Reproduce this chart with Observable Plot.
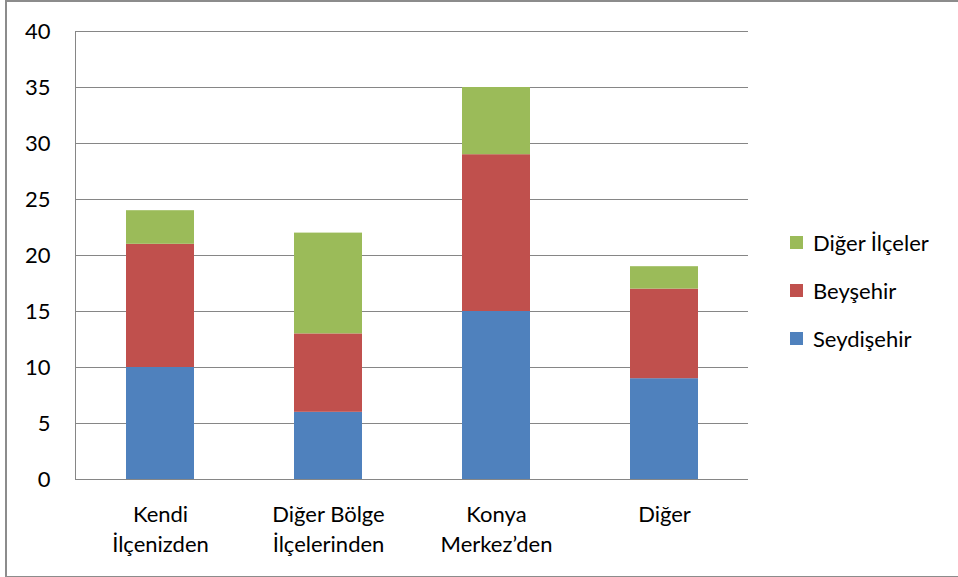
<!DOCTYPE html>
<html><head><meta charset="utf-8">
<script src="https://cdn.jsdelivr.net/npm/d3@7"></script>
<script src="https://cdn.jsdelivr.net/npm/@observablehq/plot@0.6"></script>
<style>
body{margin:0;background:#fff;}
#wrap{position:relative;width:958px;height:577px;overflow:hidden;font-family:Lato,sans-serif;}
#border{position:absolute;left:5px;top:0px;width:960px;height:574px;border:2px solid #8c8c8c;border-right:none;box-sizing:content-box;}
#legend{position:absolute;left:790px;top:218px;font-size:22px;color:#000;}
.li{display:flex;align-items:center;height:48px;margin:0;}
.sw{width:13px;height:13px;margin-right:10px;}
</style></head>
<body><div id="wrap"><div id="border"></div><div id="chart"></div><div id="legend"></div></div>
<script>
const categories = ["Kendi\nİlçenizden", "Diğer Bölge\nİlçelerinden", "Konya\nMerkez’den", "Diğer"];
const seriesNames = ["Seydişehir", "Beyşehir", "Diğer İlçeler"];
const seydisehir = [10, 6, 15, 9];
const beysehir = [11, 7, 14, 8];
const digerIlceler = [3, 9, 6, 2];
const colors = ["#4F81BD", "#C0504D", "#9BBB59"];
const yTicks = [0, 5, 10, 15, 20, 25, 30, 35, 40];

const seriesValues = [seydisehir, beysehir, digerIlceler];
const data = [];
seriesNames.forEach((s, i) => categories.forEach((c, j) => data.push({cat: c, series: s, value: seriesValues[i][j]})));

const chart = Plot.plot({
  width: 958, height: 577,
  marginLeft: 75, marginRight: 210, marginTop: 31, marginBottom: 98,
  style: {fontFamily: "Lato, sans-serif", fontSize: "22px", color: "#000", background: "transparent"},
  x: {domain: categories, paddingInner: 0.596, paddingOuter: 0.298, label: null},
  y: {domain: [0, 40], label: null},
  color: {domain: seriesNames, range: colors},
  marks: [
    Plot.gridY(yTicks, {stroke: "#868686", strokeOpacity: 1}),
    Plot.barY(data, {x: "cat", y: "value", fill: "series", order: seriesNames}),
    Plot.frame({anchor: "left", stroke: "#868686"}),
    Plot.ruleY([0], {stroke: "#868686"}),
    Plot.axisY(yTicks, {tickSize: 0, tickPadding: 25, label: null, fontSize: 22}),
    Plot.axisX({tickSize: 0, tickPadding: 21, label: null, fontSize: 22, lineHeight: 1.36})
  ]
});
document.getElementById("chart").appendChild(chart);

const legend = document.getElementById("legend");
[2, 1, 0].forEach(i => {
  const d = document.createElement("div"); d.className = "li";
  d.innerHTML = `<div class="sw" style="background:${colors[i]}"></div><span>${seriesNames[i]}</span>`;
  legend.appendChild(d);
});
</script></body></html>
